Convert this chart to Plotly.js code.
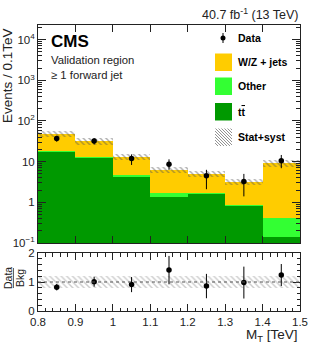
<!DOCTYPE html>
<html>
<head>
<meta charset="utf-8">
<script src="https://cdn.plot.ly/plotly-3.0.1.min.js"></script>
<style>
html,body{margin:0;padding:0;background:#fff;}
#chart{width:316px;height:356px;}
</style>
</head>
<body>
<div id="chart"></div>
<script>
// ---- data ----
const binCenters = [0.85, 0.95, 1.05, 1.15, 1.25, 1.35, 1.45];
const ttbar      = [17.5, 12.1, 4.3, 1.33, 1.63, 0.82, 0.14];
const other      = [0.7, 0.7, 0.4, 0.37, 0.05, 0.06, 0.28];
const wzjets     = [29.8, 18.7, 8.5, 4.6, 3.32, 2.37, 8.68];
const dataCounts = [37, 32, 12, 8.6, 4.5, 3.25, 10.6];
const dataErrUp  = [6.0, 5.6, 3.1, 2.8, 1.8, 1.75, 4.0];
const dataErrDn  = [6.0, 5.6, 3.7, 2.3, 2.4, 1.85, 3.7];
const bkgRelUnc  = [0.18, 0.18, 0.18, 0.18, 0.18, 0.18, 0.18];
const ratioVals  = [0.82, 1.01, 0.91, 1.41, 0.86, 0.98, 1.24];
const ratioErr   = [0.11, 0.17, 0.26, 0.49, 0.42, 0.55, 0.38];
const ratioBandUnc = 0.2;
const yTickVals  = [0.1, 1, 10, 100, 1000, 10000];
const yTickText  = ['10<sup>\u22121</sup>', '1', '10', '10<sup>2</sup>', '10<sup>3</sup>', '10<sup>4</sup>'];
const xTickVals  = [0.8, 0.9, 1.0, 1.1, 1.2, 1.3, 1.4, 1.5];
const xTickText  = ['0.8', '0.9', '1', '1.1', '1.2', '1.3', '1.4', '1.5'];
const ratioTickVals = [0, 1, 2];
const legendLabels = ['Data', 'W/Z + jets', 'Other', 't<span style="text-decoration:overline">t</span>', 'Stat+syst'];

// ---- colours ----
const cWZ = '#ffcc00', cOther = '#33ff33', cTT = '#009900';
const FONT = 'Liberation Sans, Arial, sans-serif';
const binW = 0.1;

// cumulative stacks
const cumOther = ttbar.map((v, i) => v + other[i]);
const total = cumOther.map((v, i) => v + wzjets[i]);
const bandBase = total.map((v, i) => v * (1 - bkgRelUnc[i]));
const bandH = total.map((v, i) => v * 2 * bkgRelUnc[i]);

// ---- geometry helpers (pixel -> paper) ----
const W = 316, H = 356, ML = 38, MR = 16, MT = 25, MB = 45;
const PW = W - ML - MR, PH = H - MT - MB;
const px = x => (x - ML) / PW;
const py = y => (H - MB - y) / PH;

const traces = [];
// main panel (xaxis2 / yaxis2)
traces.push({type:'bar', x:binCenters, y:total, width:binW, xaxis:'x2', yaxis:'y2',
  marker:{color:cWZ, line:{width:0}}, hoverinfo:'skip', showlegend:false});
traces.push({type:'bar', x:binCenters, y:cumOther, width:binW, xaxis:'x2', yaxis:'y2',
  marker:{color:cOther, line:{width:0}}, hoverinfo:'skip', showlegend:false});
traces.push({type:'bar', x:binCenters, y:ttbar, width:binW, xaxis:'x2', yaxis:'y2',
  marker:{color:cTT, line:{width:0}}, hoverinfo:'skip', showlegend:false});
traces.push({type:'bar', x:binCenters, y:bandH, base:bandBase, width:binW, xaxis:'x2', yaxis:'y2',
  marker:{color:'rgba(0,0,0,0)', line:{width:0},
    pattern:{shape:'\\', fgcolor:'#555', bgcolor:'rgba(0,0,0,0)', size:4, solidity:0.35, fillmode:'overlay'}},
  hoverinfo:'skip', showlegend:false});
traces.push({type:'scatter', mode:'markers', x:binCenters, y:dataCounts, xaxis:'x2', yaxis:'y2',
  marker:{color:'#000', size:5.5},
  error_y:{type:'data', symmetric:false, array:dataErrUp, arrayminus:dataErrDn, width:0, thickness:1, color:'#000'},
  hoverinfo:'skip', showlegend:false});

// ratio panel (xaxis / yaxis)
traces.push({type:'bar', x:binCenters, y:binCenters.map(() => 2 * ratioBandUnc), base:binCenters.map(() => 1 - ratioBandUnc),
  width:binW, xaxis:'x', yaxis:'y',
  marker:{color:'rgba(0,0,0,0)', line:{width:0},
    pattern:{shape:'\\', fgcolor:'#999', bgcolor:'rgba(0,0,0,0)', size:4, solidity:0.35, fillmode:'overlay'}},
  hoverinfo:'skip', showlegend:false});
traces.push({type:'scatter', mode:'markers', x:binCenters, y:ratioVals, xaxis:'x', yaxis:'y',
  marker:{color:'#000', size:5.5},
  error_y:{type:'data', array:ratioErr, width:0, thickness:1, color:'#000'},
  hoverinfo:'skip', showlegend:false});

const axisCommon = {showgrid:false, zeroline:false, showline:true, linecolor:'#222', linewidth:1,
  mirror:'allticks', ticks:'inside', tickcolor:'#222', tickfont:{family:FONT, size:11.5, color:'#222'}};

const shapes = [];
// dashed line at ratio 1
shapes.push({type:'line', xref:'x', yref:'y', x0:0.8, x1:1.5, y0:1, y1:1,
  line:{color:'#555', width:1, dash:'dot'}});

// ---- custom legend ----
const legX0 = 215, legX1 = 232;
// data marker
shapes.push({type:'line', xref:'paper', yref:'paper', x0:px(223), x1:px(223), y0:py(33), y1:py(43), line:{color:'#000', width:1}});
shapes.push({type:'circle', xref:'paper', yref:'paper', x0:px(220.5), x1:px(225.5), y0:py(35.5), y1:py(40.5), fillcolor:'#000', line:{width:0}});
const boxes = [[cWZ, 53.5], [cOther, 77.5], [cTT, 103]];
boxes.forEach(([c, y0]) => {
  shapes.push({type:'rect', xref:'paper', yref:'paper', x0:px(legX0), x1:px(legX1), y0:py(y0), y1:py(y0 + 17.5),
    fillcolor:c, line:{width:0}});
});
// hatched legend box
(function(){
  const x0 = legX0, x1 = legX1, y0 = 128.5, y1 = 146;
  const w = x1 - x0, h = y1 - y0;
  for (let c = -h; c < w; c += 3) {
    let xa = x0 + c, ya = y0;
    if (xa < x0) { ya = y0 + (x0 - xa); xa = x0; }
    let xb = x0 + c + h, yb = y1;
    if (xb > x1) { yb = y1 - (xb - x1); xb = x1; }
    if (ya >= y1 || xa >= x1) continue;
    shapes.push({type:'line', xref:'paper', yref:'paper', x0:px(xa), y0:py(ya), x1:px(xb), y1:py(yb),
      line:{color:'#777', width:0.8}});
  }
})();
// Data/Bkg fraction bar
shapes.push({type:'line', xref:'paper', yref:'paper', x0:px(13.4), x1:px(13.4), y0:py(268), y1:py(288),
  line:{color:'#222', width:0.8}});

const ann = [];
const legY = [38, 62.3, 86.3, 111.8, 137.3];
legendLabels.forEach((t, i) => {
  ann.push({xref:'paper', yref:'paper', x:px(236), y:py(legY[i]), text:'<b>' + t + '</b>', showarrow:false,
    xanchor:'left', yanchor:'middle', font:{family:FONT, size:10.5, color:'#000'}});
});
ann.push({xref:'paper', yref:'paper', x:px(49), y:py(41), text:'<b>CMS</b>', showarrow:false,
  xanchor:'left', yanchor:'middle', font:{family:FONT, size:17, color:'#000'}});
ann.push({xref:'paper', yref:'paper', x:px(49), y:py(60), text:'Validation region', showarrow:false,
  xanchor:'left', yanchor:'middle', font:{family:FONT, size:11.3, color:'#222'}});
ann.push({xref:'paper', yref:'paper', x:px(49), y:py(75), text:'\u2265 1 forward jet', showarrow:false,
  xanchor:'left', yanchor:'middle', font:{family:FONT, size:11.3, color:'#222'}});
ann.push({xref:'paper', yref:'paper', x:px(301), y:py(14), text:'40.7 fb<sup>-1</sup> (13 TeV)', showarrow:false,
  xanchor:'right', yanchor:'middle', font:{family:FONT, size:12.5, color:'#222'}});
ann.push({xref:'paper', yref:'paper', x:px(7), y:py(76), text:'Events / 0.1TeV', showarrow:false, textangle:-90,
  xanchor:'center', yanchor:'middle', font:{family:FONT, size:13.5, color:'#222'}});
ann.push({xref:'paper', yref:'paper', x:px(7.5), y:py(278.5), text:'Data', showarrow:false, textangle:-90,
  xanchor:'center', yanchor:'middle', font:{family:FONT, size:10.5, color:'#222'}});
ann.push({xref:'paper', yref:'paper', x:px(19.5), y:py(278.5), text:'Bkg', showarrow:false, textangle:-90,
  xanchor:'center', yanchor:'middle', font:{family:FONT, size:10.5, color:'#222'}});
ann.push({xref:'paper', yref:'paper', x:px(300), y:py(335), text:'M<sub>T</sub> [TeV]', showarrow:false,
  xanchor:'right', yanchor:'middle', font:{family:FONT, size:13.5, color:'#222'}});

const mainBottom = py(243), ratioTop = py(253);

const layout = {
  width:W, height:H, margin:{l:ML, r:MR, t:MT, b:MB, pad:0},
  paper_bgcolor:'#fff', plot_bgcolor:'#fff', showlegend:false, barmode:'overlay', bargap:0,
  xaxis: Object.assign({}, axisCommon, {domain:[0,1], anchor:'y', range:[0.8,1.5], tickvals:xTickVals, ticktext:xTickText,
    ticklen:7, minor:{ticks:'inside', dtick:0.02, ticklen:3.5, tickcolor:'#222', showgrid:false}}),
  yaxis: Object.assign({}, axisCommon, {domain:[0, ratioTop], anchor:'x', range:[0,2], tickvals:ratioTickVals,
    ticklen:7, minor:{ticks:'inside', dtick:0.2, ticklen:3.5, tickcolor:'#222', showgrid:false}}),
  xaxis2: Object.assign({}, axisCommon, {domain:[0,1], anchor:'y2', range:[0.8,1.5], tickvals:xTickVals,
    showticklabels:false, ticklen:7}),
  yaxis2: Object.assign({}, axisCommon, {domain:[mainBottom, 1], anchor:'x2', type:'log', range:[-1, 4.36],
    tickvals:yTickVals, ticktext:yTickText, ticklen:8,
    minor:{ticks:'inside', tickvals:(function(){const a=[];for(let e=-1;e<5;e++){for(let k=2;k<10;k++){a.push(k*Math.pow(10,e));}}return a;})(),
      ticklen:4, tickcolor:'#222', showgrid:false}}),
  shapes:shapes, annotations:ann
};

Plotly.newPlot('chart', traces, layout, {staticPlot:true, displayModeBar:false});
</script>
</body>
</html>
